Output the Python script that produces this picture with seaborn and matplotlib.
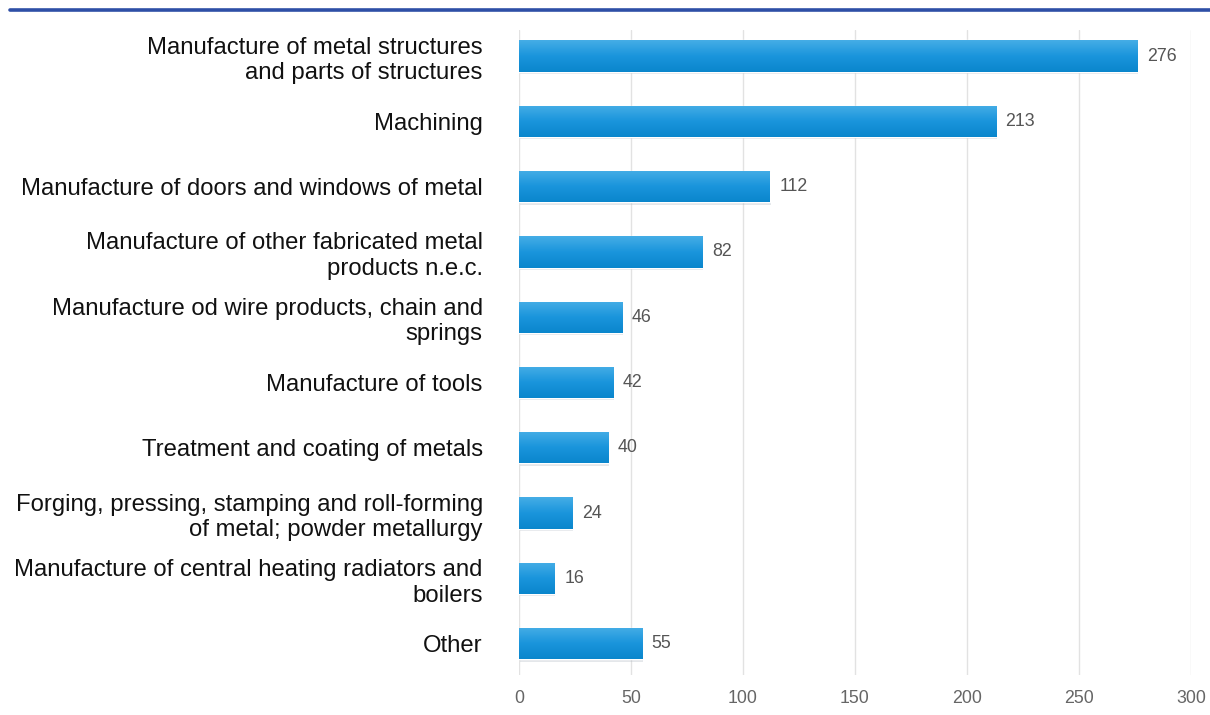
import numpy as np
import pandas as pd
import matplotlib
matplotlib.use("Agg")
import matplotlib.pyplot as plt
import seaborn as sns
from matplotlib.colors import LinearSegmentedColormap

categories = [
    "Manufacture of metal structures\nand parts of structures",
    "Machining",
    "Manufacture of doors and windows of metal",
    "Manufacture of other fabricated metal\nproducts n.e.c.",
    "Manufacture od wire products, chain and\nsprings",
    "Manufacture of tools",
    "Treatment and coating of metals",
    "Forging, pressing, stamping and roll-forming\nof metal; powder metallurgy",
    "Manufacture of central heating radiators and\nboilers",
    "Other",
]
values = [276, 213, 112, 82, 46, 42, 40, 24, 16, 55]
x_ticks = [0, 50, 100, 150, 200, 250, 300]

df = pd.DataFrame({"category": categories, "value": values})

sns.set_theme(style="white")
plt.rcParams["font.family"] = ["Liberation Sans", "DejaVu Sans"]

fig = plt.figure(figsize=(12.1, 7.15), dpi=100)
ax = fig.add_axes([0.4289, 0.056, 0.5554, 0.902])

sns.barplot(data=df, x="value", y="category", orient="h", color="#1f97dd",
            width=0.48, ax=ax, zorder=3, saturation=1)

ax.set_xticks(x_ticks)
ax.set_xticklabels([str(t) for t in x_ticks], color="#666666", fontsize=12.8)
ax.tick_params(axis="x", length=0, pad=11)
ax.tick_params(axis="y", length=0, pad=26)
for lab in ax.get_yticklabels():
    lab.set_fontsize(17.2)
    lab.set_color("#111111")
    lab.set_multialignment("right")
    lab.set_linespacing(1.22)
ax.set_xlabel("")
ax.set_ylabel("")
ax.grid(axis="x", color="#e2e2e2", linewidth=1.0, zorder=0)
for s in ax.spines.values():
    s.set_visible(False)

# vertical gradient fill on each bar, plus a faint drop shadow
cmap = LinearSegmentedColormap.from_list("bar", ["#45ade6", "#1a95dc", "#0a86cc"])
grad = np.linspace(0, 1, 64).reshape(-1, 1)
for patch, val in zip(ax.patches, values):
    x0, y0 = patch.get_x(), patch.get_y()
    w, h = patch.get_width(), patch.get_height()
    shadow = plt.Rectangle((x0 + 0.3, y0 + 0.035), w, h, facecolor="#a8b2bb",
                           alpha=0.3, edgecolor="none", zorder=2)
    ax.add_patch(shadow)
    im = ax.imshow(grad, cmap=cmap, aspect="auto", extent=(x0, x0 + w, y0 + h, y0),
                   zorder=4, interpolation="bilinear")
    im.set_clip_path(patch)
    ax.text(x0 + w + 4.2, y0 + h / 2, str(val), va="center", ha="left",
            fontsize=12.8, color="#555555", zorder=5)
ax.set_xlim(0, 300)
ax.set_ylim(9.48, -0.4)

# rule across the top of the figure
fig.add_artist(plt.Line2D([10 / 1210, 1.0], [1 - 10 / 715, 1 - 10 / 715],
                          color="#2e4fa6", linewidth=2.6, transform=fig.transFigure))

fig.savefig("out.png", dpi=100)
